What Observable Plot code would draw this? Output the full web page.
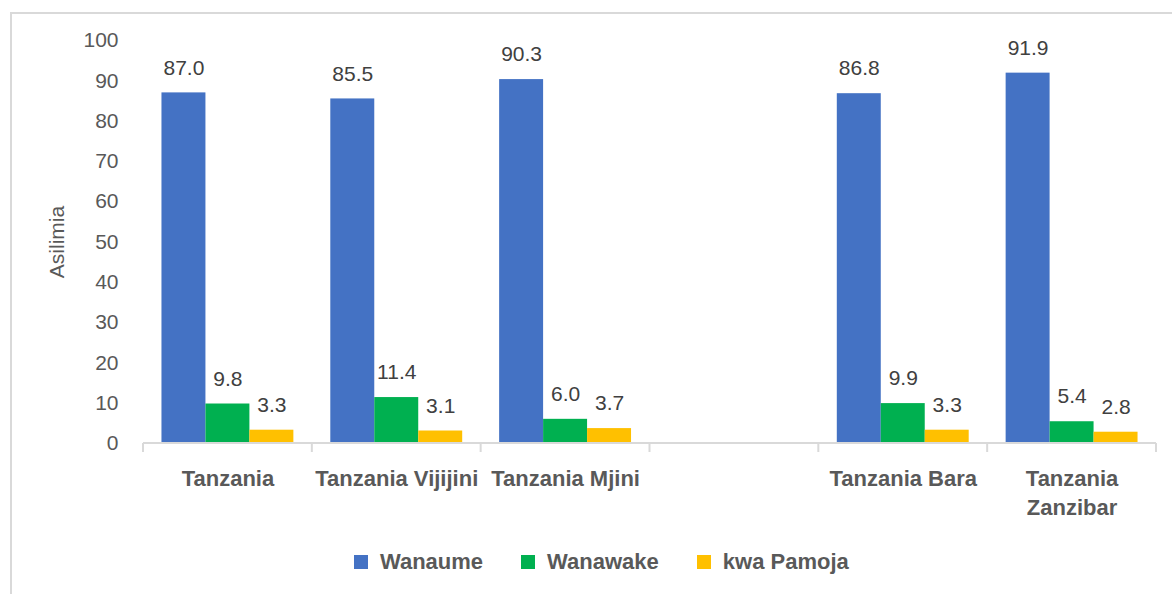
<!DOCTYPE html>
<html>
<head>
<meta charset="utf-8">
<script src="https://cdn.jsdelivr.net/npm/d3@7"></script>
<script src="https://cdn.jsdelivr.net/npm/@observablehq/plot@0.6"></script>
<style>
  html, body { margin: 0; padding: 0; background: #fff; }
  #wrap { position: relative; width: 1172px; height: 594px; overflow: hidden; }
  #border { position: absolute; left: 10px; top: 12px; width: 2000px; height: 2000px;
            border-left: 2px solid #d9d9d9; border-top: 2px solid #d9d9d9; }
  #chart { position: absolute; left: 0; top: 0; }
  #legend { position: absolute; left: 354px; top: 549px; display: flex; align-items: center;
            font-family: "Liberation Sans", Arial, sans-serif;
            font-weight: bold; font-size: 22px; color: #595959; }
  .item { display: flex; align-items: center; margin-right: 38px; }
  .sw { width: 14px; height: 14px; margin-right: 12px; }
</style>
</head>
<body>
<div id="wrap">
  <div id="border"></div>
  <div id="chart"></div>
  <div id="legend"></div>
</div>
<script>
const categories = ["Tanzania", "Tanzania Vijijini", "Tanzania Mjini", "", "Tanzania Bara", "Tanzania Zanzibar"];
const categoryLabels = ["Tanzania", "Tanzania Vijijini", "Tanzania Mjini", "", "Tanzania Bara", "Tanzania\nZanzibar"];
const seriesNames = ["Wanaume", "Wanawake", "kwa Pamoja"];
const seriesColors = ["#4472C4", "#00B050", "#FFC000"];
const wanaume = [87.0, 85.5, 90.3, null, 86.8, 91.9];
const wanawake = [9.8, 11.4, 6.0, null, 9.9, 5.4];
const kwaPamoja = [3.3, 3.1, 3.7, null, 3.3, 2.8];
const yTicks = [0, 10, 20, 30, 40, 50, 60, 70, 80, 90, 100];
const yLabel = "Asilimia";

const seriesValues = [wanaume, wanawake, kwaPamoja];
const rows = [];
categories.forEach((c, i) => {
  seriesNames.forEach((s, j) => {
    const v = seriesValues[j][i];
    if (v != null) rows.push({category: c, series: s, value: v});
  });
});

const font = '"Liberation Sans", Arial, sans-serif';

const chart = Plot.plot({
  width: 1172,
  height: 530,
  marginLeft: 143,
  marginRight: 16,
  marginTop: 40,
  marginBottom: 87,
  style: {fontFamily: font, fontSize: "21px", color: "#595959", background: "transparent"},
  fx: {domain: categories, padding: 0, label: null, round: false},
  x: {domain: seriesNames, paddingInner: 0, paddingOuter: 0.42, axis: null, round: false},
  y: {domain: [0, 100], axis: null},
  color: {domain: seriesNames, range: seriesColors},
  marks: [
    Plot.axisY({ticks: yTicks, tickSize: 0, tickPadding: 25, label: yLabel, labelAnchor: "center",
                labelArrow: "none", labelOffset: 94, fontSize: 21, facetAnchor: "left"}),
    Plot.axisFx({anchor: "bottom", tickSize: 0, tickPadding: 21, label: null, fontWeight: "bold",
                 lineHeight: 1.35, fontSize: 22,
                 tickFormat: d => categoryLabels[categories.indexOf(d)]}),
    Plot.barY(rows, {fx: "category", x: "series", y: "value", fill: "series"}),
    Plot.text(rows, {fx: "category", x: "series", y: "value", text: d => d.value.toFixed(1),
                     dy: -25, fill: "#404040", fontSize: 21})
  ]
});

document.getElementById("chart").appendChild(chart);

// category axis line with separators drawn from Plot's scales
const fx = chart.scale("fx");
const ys = chart.scale("y");
const y0 = ys.apply(0);
const edges = categories.map(c => fx.apply(c));
edges.push(edges[edges.length - 1] + fx.bandwidth);
const g = d3.select(chart).append("g").attr("stroke", "#d9d9d9").attr("stroke-width", 2);
g.append("line").attr("x1", edges[0]).attr("x2", edges[edges.length - 1]).attr("y1", y0).attr("y2", y0);
edges.forEach(x => g.append("line").attr("x1", x).attr("x2", x).attr("y1", y0).attr("y2", y0 + 9));

// legend
const legend = d3.select("#legend");
seriesNames.forEach((s, i) => {
  const it = legend.append("div").attr("class", "item");
  it.append("div").attr("class", "sw").style("background", seriesColors[i]);
  it.append("span").text(s);
});
</script>
</body>
</html>
